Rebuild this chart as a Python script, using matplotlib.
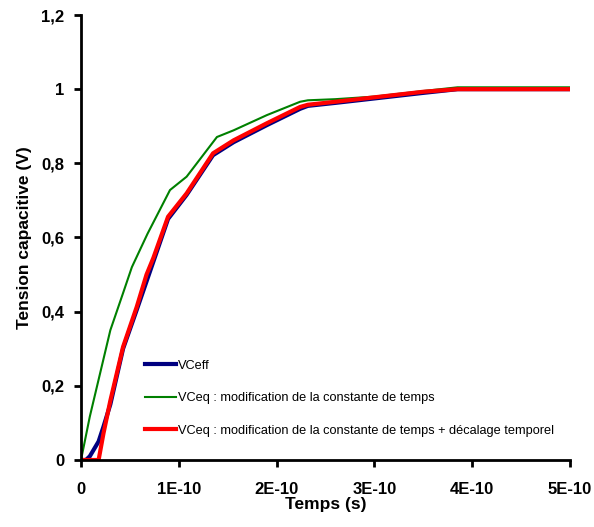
import matplotlib
matplotlib.use("Agg")
from matplotlib import pyplot as plt
from matplotlib.ticker import FixedLocator, FixedFormatter

plt.rcParams['font.family'] = ['Liberation Sans', 'DejaVu Sans']

# temps en unites de 1E-10 s
t_eff = [0, 0.05, 0.09, 0.18, 0.23, 0.30, 0.43, 0.57, 0.74, 0.89, 1.08, 1.35, 1.56, 1.90, 2.24, 2.32, 2.6, 3.0, 3.5, 3.85, 5.0]
v_eff = [0, 0, 0.01, 0.05, 0.09, 0.15, 0.30, 0.405, 0.535, 0.65, 0.715, 0.822, 0.857, 0.903, 0.947, 0.955, 0.963, 0.975, 0.99, 1.0, 1.0]

t_eq = [0, 0.09, 0.30, 0.43, 0.52, 0.68, 0.91, 1.08, 1.39, 1.56, 1.90, 2.24, 2.32, 2.6, 3.0, 3.5, 3.85, 5.0]
v_eq = [0, 0.117, 0.35, 0.45, 0.52, 0.61, 0.728, 0.764, 0.871, 0.889, 0.93, 0.966, 0.97, 0.973, 0.98, 0.995, 1.005, 1.005]

t_dec = [0, 0.18, 0.23, 0.30, 0.43, 0.57, 0.67, 0.74, 0.89, 1.08, 1.35, 1.56, 1.90, 2.24, 2.32, 2.6, 3.0, 3.5, 3.85, 5.0]
v_dec = [0, 0, 0.072, 0.16, 0.305, 0.413, 0.50, 0.545, 0.656, 0.719, 0.827, 0.862, 0.908, 0.952, 0.958, 0.966, 0.978, 0.993, 1.0, 1.0]

x_ticks = [0, 1, 2, 3, 4, 5]
x_labels = ["0", "1E-10", "2E-10", "3E-10", "4E-10", "5E-10"]
y_ticks = [0, 0.2, 0.4, 0.6, 0.8, 1.0, 1.2]
y_labels = ["0", "0,2", "0,4", "0,6", "0,8", "1", "1,2"]

fig = plt.figure(figsize=(5.94, 5.27), dpi=100)
ax = fig.add_axes([81/594, 1-460/527, 489/594, 445/527])

ax.plot([t*1e-10 for t in t_eff], v_eff, color="#000080", lw=3, label="VCeff")
ax.plot([t*1e-10 for t in t_eq], v_eq, color="#008000", lw=1.5, label="VCeq : modification de la constante de temps")
ax.plot([t*1e-10 for t in t_dec], v_dec, color="#FF0000", lw=3,
        label="VCeq : modification de la constante de temps + décalage temporel")

ax.set_xlim(0, 5e-10)
ax.set_ylim(0, 1.2)
ax.xaxis.set_major_locator(FixedLocator([x*1e-10 for x in x_ticks]))
ax.xaxis.set_major_formatter(FixedFormatter(x_labels))
ax.yaxis.set_major_locator(FixedLocator(y_ticks))
ax.yaxis.set_major_formatter(FixedFormatter(y_labels))

for s in ["top", "right"]:
    ax.spines[s].set_visible(False)
for s in ["left", "bottom"]:
    ax.spines[s].set_linewidth(2)
ax.tick_params(direction="out", length=5, width=2, labelsize=12)
ax.tick_params(axis="x", pad=11)
ax.tick_params(axis="y", pad=7)
for lab in ax.get_xticklabels() + ax.get_yticklabels():
    lab.set_fontweight("bold")

ax.set_xlabel("Temps (s)", fontsize=12.5, fontweight="bold")
ax.xaxis.set_label_coords(0.5, -0.083)
ax.set_ylabel("Tension capacitive (V)", fontsize=12.5, fontweight="bold")
ax.yaxis.set_label_coords(-0.10, 0.5)

leg = ax.legend(loc="upper left", bbox_to_anchor=(0.131, 0.225), frameon=False,
                fontsize=9.2, handlelength=2.4, handletextpad=0.15,
                labelspacing=1.6, borderpad=0, borderaxespad=0)

fig.savefig("out.png", dpi=100)
